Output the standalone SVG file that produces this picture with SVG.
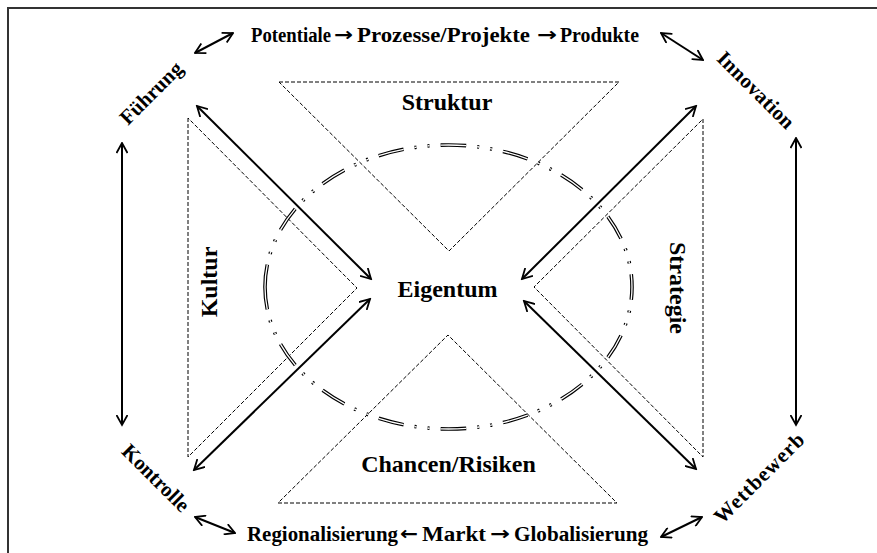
<svg xmlns="http://www.w3.org/2000/svg" width="877" height="553" viewBox="0 0 877 553">
<style>
  .t { font-family: "Liberation Serif", "Times New Roman", serif; font-weight: bold; fill: #000; }
  .s { font-size: 20px; }
  .r { font-size: 21px; }
  .b { font-size: 24px; }
  .ar { font-family: "DejaVu Sans", sans-serif; font-weight: bold; font-size: 19px; fill: #000; }
  .tri { fill: none; stroke: #000; stroke-width: 1; stroke-dasharray: 4 2; }
  .arr { fill: none; stroke: #000; stroke-width: 2; marker-start: url(#ah); marker-end: url(#ah); }
  .frame { stroke: #333; stroke-width: 2; fill: none; }
  .ell { fill: none; stroke-dasharray: 25 10.77 2 10.77 2 10.77; stroke-dashoffset: 3; }
</style>
<defs>
  <marker id="ah" viewBox="0 0 12 12" refX="10.5" refY="6" markerWidth="12" markerHeight="12" markerUnits="userSpaceOnUse" orient="auto-start-reverse">
    <path d="M0.5,0.5 L10.5,6 L0.5,11.5" fill="none" stroke="#000" stroke-width="1.8" stroke-linejoin="miter"/>
  </marker>
</defs>
<rect width="877" height="553" fill="#fff"/>
<g id="frame">
  <path class="frame" d="M8,553 L8,8 L877,8"/>
</g>
<g id="struktur">
  <polygon class="tri" points="279,82 619,82 449,251"/>
  <text class="t b" x="447" y="110" text-anchor="middle">Struktur</text>
</g>
<g id="chancen">
  <polygon class="tri" points="278,503 617,503 448,335"/>
  <text class="t b" x="448.5" y="472" text-anchor="middle">Chancen/Risiken</text>
</g>
<g id="kultur">
  <polygon class="tri" points="188,118 188,457 357,288"/>
  <text class="t b" text-anchor="middle" transform="translate(217,282) rotate(-90)">Kultur</text>
</g>
<g id="strategie">
  <polygon class="tri" points="703,119 703,457 534,287"/>
  <text class="t b" text-anchor="middle" transform="translate(670,288) rotate(90)">Strategie</text>
</g>
<g id="eigentum">
  <text class="t b" x="447.5" y="297" text-anchor="middle">Eigentum</text>
</g>
<g id="top-label">
  <text class="t s" x="251" y="42" textLength="80" lengthAdjust="spacingAndGlyphs">Potentiale</text>
  <text class="ar" x="334" y="41" textLength="19" lengthAdjust="spacingAndGlyphs">→</text>
  <text class="t s" x="357" y="42" textLength="173" lengthAdjust="spacingAndGlyphs">Prozesse/Projekte</text>
  <text class="ar" x="537" y="41" textLength="20" lengthAdjust="spacingAndGlyphs">→</text>
  <text class="t s" x="560" y="42" textLength="79" lengthAdjust="spacingAndGlyphs">Produkte</text>
</g>
<g id="bottom-label">
  <text class="t s" x="247" y="541" textLength="151" lengthAdjust="spacingAndGlyphs">Regionalisierung</text>
  <text class="ar" x="400" y="540" textLength="18" lengthAdjust="spacingAndGlyphs">←</text>
  <text class="t s" x="422" y="541" textLength="64" lengthAdjust="spacingAndGlyphs">Markt</text>
  <text class="ar" x="490" y="540" textLength="20" lengthAdjust="spacingAndGlyphs">→</text>
  <text class="t s" x="514" y="541" textLength="134" lengthAdjust="spacingAndGlyphs">Globalisierung</text>
</g>
<g id="fuehrung"><text class="t r" text-anchor="middle" transform="translate(156,98) rotate(-45)">Führung</text></g>
<g id="innovation"><text class="t r" text-anchor="middle" textLength="100" lengthAdjust="spacing" transform="translate(751,95) rotate(45)">Innovation</text></g>
<g id="kontrolle"><text class="t r" text-anchor="middle" transform="translate(151,483) rotate(45)">Kontrolle</text></g>
<g id="wettbewerb"><text class="t r" text-anchor="middle" textLength="118" lengthAdjust="spacing" transform="translate(764,483) rotate(-45)">Wettbewerb</text></g>
<g id="connectors">
  <line class="arr" x1="195" y1="53" x2="233" y2="33"/>
  <line class="arr" x1="661" y1="33" x2="703" y2="60"/>
  <line class="arr" x1="122" y1="143" x2="122" y2="425"/>
  <line class="arr" x1="796" y1="138" x2="796" y2="425"/>
  <line class="arr" x1="195" y1="517" x2="235" y2="533"/>
  <line class="arr" x1="661" y1="537" x2="702" y2="517"/>
  <line class="arr" x1="197" y1="106" x2="371" y2="279"/>
  <line class="arr" x1="370" y1="299" x2="194" y2="470"/>
  <line class="arr" x1="696" y1="106" x2="522" y2="279"/>
  <line class="arr" x1="524" y1="301" x2="696" y2="469"/>
</g>
<g id="ellipse">
  <path d="M265,287 A183.5,142 0 0 1 632,287 A183.5,142 0 0 1 265,287 Z" pathLength="1000" class="ell" stroke="#000" stroke-width="3.6"/>
  <path d="M265,287 A183.5,142 0 0 1 632,287 A183.5,142 0 0 1 265,287 Z" pathLength="1000" class="ell" stroke="#fff" stroke-width="1.3"/>
</g>
</svg>
